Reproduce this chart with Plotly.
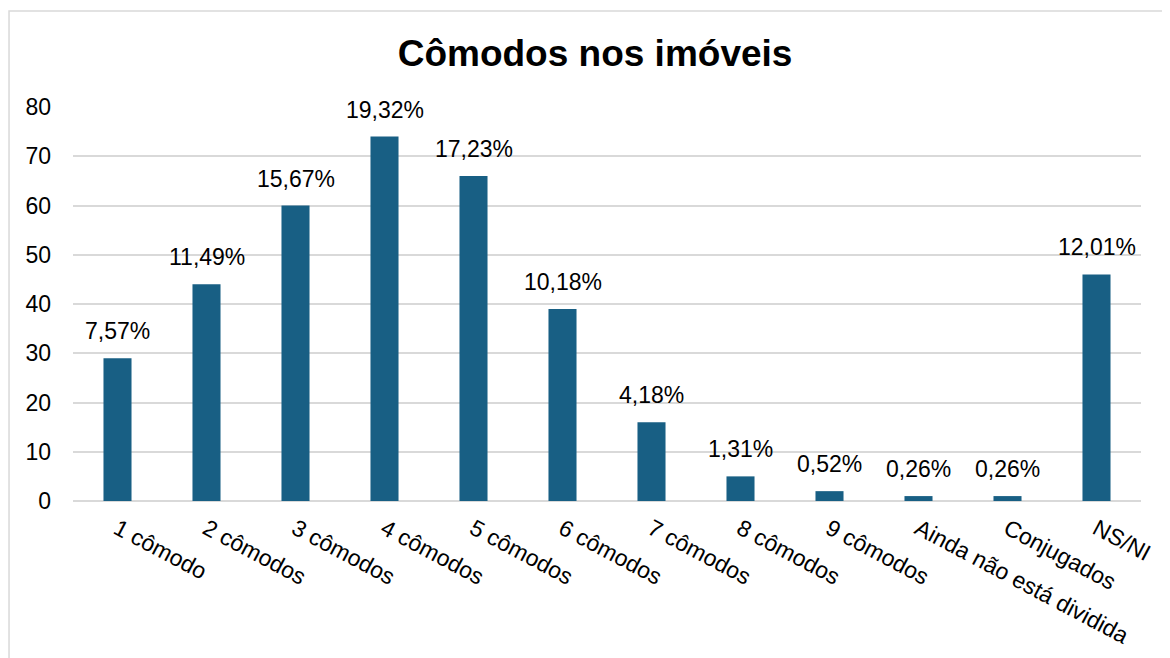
import plotly.graph_objects as go

categories = ["1 cômodo", "2 cômodos", "3 cômodos", "4 cômodos", "5 cômodos", "6 cômodos",
              "7 cômodos", "8 cômodos", "9 cômodos", "Ainda não está dividida", "Conjugados", "NS/NI"]
counts = [29, 44, 60, 74, 66, 39, 16, 5, 2, 1, 1, 46]
pct_labels = ["7,57%", "11,49%", "15,67%", "19,32%", "17,23%", "10,18%",
              "4,18%", "1,31%", "0,52%", "0,26%", "0,26%", "12,01%"]
y_ticks = [0, 10, 20, 30, 40, 50, 60, 70, 80]

FONT = "Liberation Sans, Arial, sans-serif"

fig = go.Figure(go.Bar(
    x=categories, y=counts,
    marker=dict(color="#185F84", line=dict(width=0)),
    width=0.315,
    hovertext=pct_labels,
))

# data labels placed above each bar through the data axes
for cat, val, lab in zip(categories, counts, pct_labels):
    fig.add_annotation(x=cat, y=val, text=lab, showarrow=False,
                       xanchor="center", yanchor="middle", yshift=27,
                       font=dict(family=FONT, size=23, color="#000000"))

fig.update_layout(
    width=1162, height=650,
    margin=dict(l=65, r=29, t=99, b=157, autoexpand=False),
    paper_bgcolor="white", plot_bgcolor="white",
    title=dict(text="<b>Cômodos nos imóveis</b>", x=0.5052, xanchor="center",
               y=0.9308, yanchor="middle",
               font=dict(family=FONT, size=37, color="#000000")),
    showlegend=False,
    font=dict(family=FONT, size=23, color="#000000"),
)
fig.update_xaxes(tickangle=28, showgrid=False, showline=False, ticks="",
                 ticklabelstandoff=9, automargin=False,
                 tickfont=dict(family=FONT, size=23, color="#000000"))
fig.update_yaxes(range=[0, 80], tickvals=y_ticks, showgrid=True, gridcolor="#D9D9D9",
                 gridwidth=1.5, zeroline=True, zerolinecolor="#D9D9D9", zerolinewidth=1.5,
                 ticks="", ticklabelstandoff=21, automargin=False,
                 tickfont=dict(family=FONT, size=23, color="#000000"))

# chart frame (top and left edges visible)
fig.add_shape(type="rect", xref="paper", yref="paper",
              x0=-0.0599, x1=1.2, y0=-1.0, y1=1.2437,
              line=dict(color="#D9D9D9", width=1.5), fillcolor="rgba(0,0,0,0)", layer="below")

fig.write_html("out.html")
